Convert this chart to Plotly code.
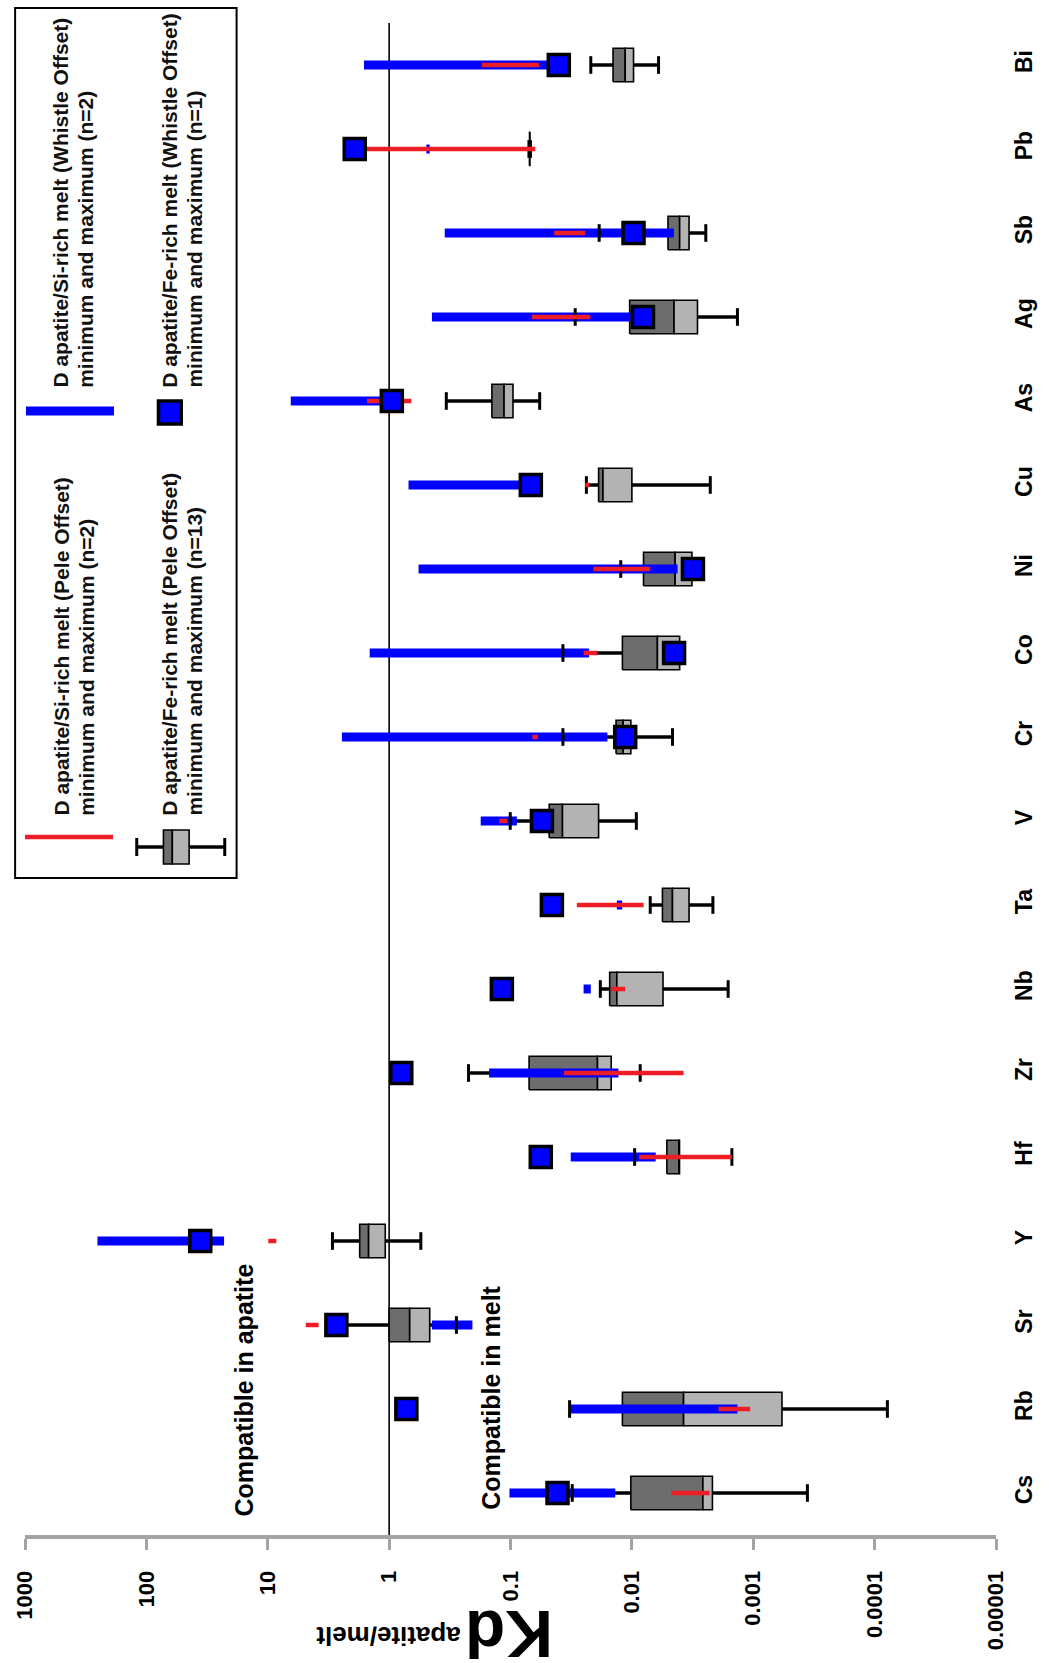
import plotly.graph_objects as go

# ---------------------------------------------------------------- data
elements = ["Cs", "Rb", "Sr", "Y", "Hf", "Zr", "Nb", "Ta", "V", "Cr",
            "Co", "Ni", "Cu", "As", "Ag", "Sb", "Pb", "Bi"]

# D apatite/Si-rich melt (Whistle Offset), min and max (n=2)
whistle_si_max = [0.102, 0.0326, 0.444, 253, 0.0319, 0.15, 0.025, 0.0133, 0.176, 2.45,
                  1.445, 0.572, 0.692, 6.46, 0.444, 0.348, 0.493, 1.61]
whistle_si_min = [0.0137, 0.00135, 0.206, 22.9, 0.00636, 0.0129, 0.0218, 0.012, 0.0886, 0.0159,
                  0.0225, 0.0042, 0.07, 0.95, 0.0102, 0.0045, 0.463, 0.045]

# D apatite/Fe-rich melt (Whistle Offset), n=1
whistle_fe = [0.041, 0.721, 2.72, 36, 0.0563, 0.794, 0.1178, 0.0456, 0.0551, 0.01135,
              0.00449, 0.00314, 0.068, 0.95, 0.0081, 0.00969, 1.92, 0.040]

# D apatite/Si-rich melt (Pele Offset), min and max (n=2)
pele_si_max = [0.00473, 0.00193, 4.86, 9.9, 0.0087, 0.0362, 0.0148, 0.0284, 0.124, 0.066,
               0.025, 0.0207, 0.0242, 1.52, 0.0667, 0.0437, 1.75, 0.172]
pele_si_min = [0.00229, 0.00106, 3.81, 8.5, 0.0015, 0.00375, 0.01135, 0.0080, 0.106, 0.0593,
               0.0192, 0.00706, 0.0225, 0.656, 0.022, 0.0242, 0.0625, 0.058]

# D apatite/Fe-rich melt (Pele Offset), n=13: five-number summary
pele_fe_max = [0.031, 0.0326, 2.6, 2.93, 0.00949, 0.2217, 0.0182, 0.00706, 0.1005, 0.037,
               0.037, 0.01235, 0.0237, 0.338, 0.0293, 0.0186, 0.0705, 0.0218]
pele_fe_q3 = [0.0102, 0.01197, 1.0, 1.748, 0.00515, 0.0703, 0.01524, 0.0056, 0.048, 0.0135,
              0.01197, 0.00802, 0.0188, 0.1423, 0.01043, 0.00504, 0.0697, 0.0143]
pele_fe_median = [0.0026, 0.00375, 0.677, 1.476, 0.0041, 0.0192, 0.0133, 0.00463, 0.0373, 0.0118,
                  0.00616, 0.0044, 0.0173, 0.113, 0.00449, 0.00404, 0.0695, 0.01135]
pele_fe_q1 = [0.00217, 0.00058, 0.463, 1.076, 0.00405, 0.0148, 0.00554, 0.00338, 0.0188, 0.0102,
              0.00404, 0.0032, 0.0100, 0.0954, 0.00288, 0.00338, 0.0693, 0.00969]
pele_fe_min = [0.000358, 0.0000785, 0.279, 0.548, 0.0015, 0.00854, 0.00161, 0.00215, 0.00919, 0.00463,
               0.0038, 0.0029, 0.00226, 0.0575, 0.00135, 0.00246, 0.0685, 0.00603]

kd_ticks = [1000, 100, 10, 1, 0.1, 0.01, 0.001, 0.0001, 0.00001]
kd_tick_text = ["1000", "100", "10", "1", "0.1", "0.01", "0.001", "0.0001", "0.00001"]

# ---------------------------------------------------------------- style
FONT = "Liberation Sans"
BLUE = "#0000ff"
RED = "#ee1c24"
DARK = "#6d6d6d"
LIGHT = "#b3b3b3"
AXIS_GREY = "#a3a3a3"

W, H = 1049, 1663
PLOT_L, PLOT_R, PLOT_T, PLOT_B = 17, 999, 23, 1535

BOX_HALF = 0.2      # half height of the box, in category units
CAP_HALF = 0.105    # half height of the whisker caps

pos = list(range(len(elements)))


def px(x):
    return (x - PLOT_L) / (PLOT_R - PLOT_L)


def py(y):
    return (PLOT_B - y) / (PLOT_B - PLOT_T)


def segments(a_vals, b_vals, ys):
    xs, yy = [], []
    for a, b, y in zip(a_vals, b_vals, ys):
        xs += [a, b, None]
        yy += [y, y, None]
    return xs, yy


def rects(a_vals, b_vals, ys, half):
    xs, yy = [], []
    for a, b, y in zip(a_vals, b_vals, ys):
        xs += [a, b, b, a, a, None]
        yy += [y - half, y - half, y + half, y + half, y - half, None]
    return xs, yy


def caps(vals, ys, half):
    xs, yy = [], []
    for v, y in zip(vals, ys):
        xs += [v, v, None]
        yy += [y - half, y + half, None]
    return xs, yy


fig = go.Figure()

# whiskers of the Pele Fe-rich box plots
wx, wy = segments(pele_fe_max, pele_fe_min, pos)
fig.add_trace(go.Scatter(x=wx, y=wy, mode="lines",
                         line=dict(color="black", width=3.5)))

# box halves: upper quartile -> median (dark), median -> lower quartile (light)
bx, by = rects(pele_fe_q3, pele_fe_median, pos, BOX_HALF)
fig.add_trace(go.Scatter(x=bx, y=by, mode="lines", fill="toself", fillcolor=DARK,
                         line=dict(color="black", width=1.6)))
bx, by = rects(pele_fe_median, pele_fe_q1, pos, BOX_HALF)
fig.add_trace(go.Scatter(x=bx, y=by, mode="lines", fill="toself", fillcolor=LIGHT,
                         line=dict(color="black", width=1.6)))

# Whistle Si-rich ranges
sx, sy = segments(whistle_si_max, whistle_si_min, pos)
fig.add_trace(go.Scatter(x=sx, y=sy, mode="lines", line=dict(color=BLUE, width=9)))

# whisker end caps
cx1, cy1 = caps(pele_fe_max, pos, CAP_HALF)
cx2, cy2 = caps(pele_fe_min, pos, CAP_HALF)
fig.add_trace(go.Scatter(x=cx1 + cx2, y=cy1 + cy2, mode="lines",
                         line=dict(color="black", width=3)))

# Pele Si-rich ranges
rx, ry = segments(pele_si_max, pele_si_min, pos)
fig.add_trace(go.Scatter(x=rx, y=ry, mode="lines", line=dict(color=RED, width=4.5)))

# Whistle Fe-rich single values
fig.add_trace(go.Scatter(x=whistle_fe, y=pos, mode="markers",
                         marker=dict(symbol="square", size=21, color=BLUE,
                                     line=dict(color="black", width=3.5))))

fig.update_traces(showlegend=False, hoverinfo="skip")

# ---------------------------------------------------------------- legend
shapes = [
    # Kd = 1 reference line (category axis crossing)
    dict(type="line", xref="x", yref="paper", x0=1, x1=1, y0=0, y1=1,
         line=dict(color="black", width=1.6), layer="below"),
    # legend frame
    dict(type="rect", xref="paper", yref="paper", x0=px(7), x1=px(231), y0=py(878), y1=py(8),
         line=dict(color="black", width=2), fillcolor="white", layer="above"),
    # blue range key
    dict(type="line", xref="paper", yref="paper", x0=px(18), x1=px(107), y0=py(411), y1=py(411),
         line=dict(color=BLUE, width=9), layer="above"),
    # square key
    dict(type="rect", xref="paper", yref="paper", x0=px(152), x1=px(175), y0=py(424), y1=py(401),
         line=dict(color="black", width=3.5), fillcolor=BLUE, layer="above"),
    # red range key
    dict(type="line", xref="paper", yref="paper", x0=px(17), x1=px(106), y0=py(837), y1=py(837),
         line=dict(color=RED, width=4.5), layer="above"),
    # box key: whisker, caps, halves
    dict(type="line", xref="paper", yref="paper", x0=px(130), x1=px(219), y0=py(847), y1=py(847),
         line=dict(color="black", width=3.5), layer="above"),
    dict(type="line", xref="paper", yref="paper", x0=px(130), x1=px(130), y0=py(856), y1=py(838),
         line=dict(color="black", width=3), layer="above"),
    dict(type="line", xref="paper", yref="paper", x0=px(219), x1=px(219), y0=py(856), y1=py(838),
         line=dict(color="black", width=3), layer="above"),
    dict(type="rect", xref="paper", yref="paper", x0=px(157), x1=px(166), y0=py(864), y1=py(830),
         line=dict(color="black", width=1.6), fillcolor=DARK, layer="above"),
    dict(type="rect", xref="paper", yref="paper", x0=px(166), x1=px(183), y0=py(864), y1=py(830),
         line=dict(color="black", width=1.6), fillcolor=LIGHT, layer="above"),
]

legend_lines = [
    (53, 390, "D apatite/Si-rich melt (Whistle Offset)"),
    (78, 390, "minimum and maximum (n=2)"),
    (163, 390, "D apatite/Fe-rich melt (Whistle Offset)"),
    (188, 390, "minimum and maximum (n=1)"),
    (53, 818, "D apatite/Si-rich melt (Pele Offset)"),
    (79, 818, "minimum and maximum (n=2)"),
    (163, 818, "D apatite/Fe-rich melt (Pele Offset)"),
    (188, 818, "minimum and maximum (n=13)"),
]

annotations = []
for xc, yb, txt in legend_lines:
    annotations.append(dict(
        xref="paper", yref="paper", x=px(xc), y=py(yb), xanchor="center", yanchor="bottom",
        text=txt, showarrow=False, textangle=-90,
        font=dict(family=FONT, size=21, color="#111111", weight="bold")))

# region labels
annotations.append(dict(
    xref="paper", yref="paper", x=px(238), y=py(1390), xanchor="center", yanchor="middle",
    text="Compatible in apatite", showarrow=False, textangle=-90,
    font=dict(family=FONT, size=25, color="black", weight="bold")))
annotations.append(dict(
    xref="paper", yref="paper", x=px(488), y=py(1398), xanchor="center", yanchor="middle",
    text="Compatible in melt", showarrow=False, textangle=-90,
    font=dict(family=FONT, size=25, color="black", weight="bold")))

# value-axis title
annotations.append(dict(
    xref="paper", yref="paper", x=px(507), y=py(1634), xanchor="center", yanchor="middle",
    text="Kd", showarrow=False, textangle=180,
    font=dict(family=FONT, size=66, color="black", weight="bold")))
annotations.append(dict(
    xref="paper", yref="paper", x=px(384), y=py(1636), xanchor="center", yanchor="middle",
    text="apatite/melt", showarrow=False, textangle=180,
    font=dict(family=FONT, size=26, color="black", weight="bold")))

fig.update_layout(
    width=W, height=H, autosize=False,
    margin=dict(l=PLOT_L, r=W - PLOT_R, t=PLOT_T, b=H - PLOT_B, pad=0),
    paper_bgcolor="white", plot_bgcolor="white",
    shapes=shapes, annotations=annotations,
    xaxis=dict(type="log", range=[3, -5], tickvals=kd_ticks, ticktext=kd_tick_text,
               tickangle=-90, showgrid=False, zeroline=False,
               showline=True, linecolor=AXIS_GREY, linewidth=4,
               ticks="outside", ticklen=11, tickwidth=3, tickcolor=AXIS_GREY,
               ticklabelstandoff=12,
               tickfont=dict(family=FONT, size=22, color="black", weight="bold")),
    yaxis=dict(range=[-0.5, 17.5], tickvals=pos, ticktext=elements, side="right",
               tickangle=-90, showgrid=False, zeroline=False, showline=False,
               ticks="", ticklabelstandoff=12,
               tickfont=dict(family=FONT, size=23, color="black", weight="bold")),
)

fig.write_html("out.html")
